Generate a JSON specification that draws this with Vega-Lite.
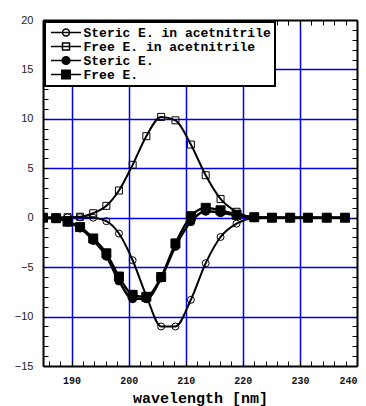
{
  "$schema": "https://vega.github.io/schema/vega-lite/v6.json",
  "width": 314,
  "height": 346,
  "autosize": "none",
  "padding": {"left": 43, "top": 20, "right": 9, "bottom": 40},
  "background": "white",
  "data": {
    "values": [
      {"s": "Steric E. in acetnitrile", "x": 185.0, "y": 0},
      {"s": "Steric E. in acetnitrile", "x": 187.3, "y": 0},
      {"s": "Steric E. in acetnitrile", "x": 189.3, "y": 0.05},
      {"s": "Steric E. in acetnitrile", "x": 191.5, "y": 0.05},
      {"s": "Steric E. in acetnitrile", "x": 193.8, "y": 0},
      {"s": "Steric E. in acetnitrile", "x": 196.1, "y": -0.35},
      {"s": "Steric E. in acetnitrile", "x": 198.3, "y": -1.6},
      {"s": "Steric E. in acetnitrile", "x": 200.7, "y": -4.3},
      {"s": "Steric E. in acetnitrile", "x": 203.1, "y": -7.9},
      {"s": "Steric E. in acetnitrile", "x": 205.7, "y": -11.0},
      {"s": "Steric E. in acetnitrile", "x": 208.2, "y": -11.0},
      {"s": "Steric E. in acetnitrile", "x": 210.9, "y": -8.3},
      {"s": "Steric E. in acetnitrile", "x": 213.5, "y": -4.6},
      {"s": "Steric E. in acetnitrile", "x": 216.1, "y": -1.95},
      {"s": "Steric E. in acetnitrile", "x": 218.9, "y": -0.6},
      {"s": "Steric E. in acetnitrile", "x": 222.0, "y": -0.05},
      {"s": "Steric E. in acetnitrile", "x": 225.1, "y": 0},
      {"s": "Steric E. in acetnitrile", "x": 228.3, "y": 0},
      {"s": "Steric E. in acetnitrile", "x": 231.4, "y": 0},
      {"s": "Steric E. in acetnitrile", "x": 234.7, "y": 0},
      {"s": "Steric E. in acetnitrile", "x": 237.9, "y": 0},
      {"s": "Free E. in acetnitrile", "x": 185.0, "y": 0},
      {"s": "Free E. in acetnitrile", "x": 187.3, "y": 0},
      {"s": "Free E. in acetnitrile", "x": 189.3, "y": 0.05},
      {"s": "Free E. in acetnitrile", "x": 191.5, "y": 0.1},
      {"s": "Free E. in acetnitrile", "x": 193.8, "y": 0.45},
      {"s": "Free E. in acetnitrile", "x": 196.1, "y": 1.2},
      {"s": "Free E. in acetnitrile", "x": 198.3, "y": 2.75},
      {"s": "Free E. in acetnitrile", "x": 200.7, "y": 5.35},
      {"s": "Free E. in acetnitrile", "x": 203.1, "y": 8.25},
      {"s": "Free E. in acetnitrile", "x": 205.7, "y": 10.2},
      {"s": "Free E. in acetnitrile", "x": 208.2, "y": 9.85},
      {"s": "Free E. in acetnitrile", "x": 210.9, "y": 7.4},
      {"s": "Free E. in acetnitrile", "x": 213.5, "y": 4.3},
      {"s": "Free E. in acetnitrile", "x": 216.1, "y": 1.9},
      {"s": "Free E. in acetnitrile", "x": 218.9, "y": 0.6},
      {"s": "Free E. in acetnitrile", "x": 222.0, "y": 0.05},
      {"s": "Free E. in acetnitrile", "x": 225.1, "y": 0},
      {"s": "Free E. in acetnitrile", "x": 228.3, "y": 0},
      {"s": "Free E. in acetnitrile", "x": 231.4, "y": 0},
      {"s": "Free E. in acetnitrile", "x": 234.7, "y": 0},
      {"s": "Free E. in acetnitrile", "x": 237.9, "y": 0},
      {"s": "Steric E.", "x": 185.0, "y": 0},
      {"s": "Steric E.", "x": 187.3, "y": -0.05},
      {"s": "Steric E.", "x": 189.3, "y": -0.45},
      {"s": "Steric E.", "x": 191.5, "y": -1.05},
      {"s": "Steric E.", "x": 193.8, "y": -2.3},
      {"s": "Steric E.", "x": 196.1, "y": -3.9},
      {"s": "Steric E.", "x": 198.3, "y": -6.4},
      {"s": "Steric E.", "x": 200.7, "y": -8.2},
      {"s": "Steric E.", "x": 203.1, "y": -8.2},
      {"s": "Steric E.", "x": 205.7, "y": -6.1},
      {"s": "Steric E.", "x": 208.2, "y": -2.9},
      {"s": "Steric E.", "x": 210.9, "y": -0.4},
      {"s": "Steric E.", "x": 213.5, "y": 0.65},
      {"s": "Steric E.", "x": 216.1, "y": 0.5},
      {"s": "Steric E.", "x": 218.9, "y": 0.25},
      {"s": "Steric E.", "x": 222.0, "y": 0},
      {"s": "Steric E.", "x": 225.1, "y": 0},
      {"s": "Steric E.", "x": 228.3, "y": 0},
      {"s": "Steric E.", "x": 231.4, "y": 0},
      {"s": "Steric E.", "x": 234.7, "y": 0},
      {"s": "Steric E.", "x": 237.9, "y": 0},
      {"s": "Free E.", "x": 185.0, "y": 0},
      {"s": "Free E.", "x": 187.3, "y": -0.05},
      {"s": "Free E.", "x": 189.3, "y": -0.4},
      {"s": "Free E.", "x": 191.5, "y": -0.95},
      {"s": "Free E.", "x": 193.8, "y": -2.1},
      {"s": "Free E.", "x": 196.1, "y": -3.6},
      {"s": "Free E.", "x": 198.3, "y": -5.95},
      {"s": "Free E.", "x": 200.7, "y": -7.8},
      {"s": "Free E.", "x": 203.1, "y": -8.0},
      {"s": "Free E.", "x": 205.7, "y": -6.0},
      {"s": "Free E.", "x": 208.2, "y": -2.6},
      {"s": "Free E.", "x": 210.9, "y": 0.15},
      {"s": "Free E.", "x": 213.5, "y": 1.0},
      {"s": "Free E.", "x": 216.1, "y": 0.75},
      {"s": "Free E.", "x": 218.9, "y": 0.3},
      {"s": "Free E.", "x": 222.0, "y": 0.05},
      {"s": "Free E.", "x": 225.1, "y": 0},
      {"s": "Free E.", "x": 228.3, "y": 0},
      {"s": "Free E.", "x": 231.4, "y": 0},
      {"s": "Free E.", "x": 234.7, "y": 0},
      {"s": "Free E.", "x": 237.9, "y": 0}
    ]
  },
  "layer": [
    {
      "mark": {"type": "line", "interpolate": "monotone", "color": "black", "clip": true},
      "encoding": {
        "x": {
          "field": "x", "type": "quantitative",
          "scale": {"domain": [185, 240], "nice": false, "zero": false},
          "axis": {
            "orient": "bottom",
            "values": [186,188,190,192,194,196,198,200,202,204,206,208,210,212,214,216,218,220,222,224,226,228,230,232,234,236,238,240],
            "labelExpr": "datum.value % 10 === 0 ? datum.label : ''",
            "labelOverlap": false,
            "grid": true,
            "gridOpacity": {"condition": {"test": "datum.value % 10 === 0 && datum.value < 240", "value": 1}, "value": 0},
            "labelFont": "Liberation Mono", "labelFontWeight": "bold", "labelFontSize": 10, "labelColor": "#111",
            "labelPadding": 14,
            "title": "wavelength [nm]",
            "titleFont": "Liberation Mono", "titleFontWeight": "bold", "titleFontSize": 15,
            "titlePadding": 5
          }
        },
        "y": {
          "field": "y", "type": "quantitative",
          "scale": {"domain": [-15, 20], "nice": false, "zero": false},
          "axis": {
            "orient": "left",
            "values": [-15,-14,-13,-12,-11,-10,-9,-8,-7,-6,-5,-4,-3,-2,-1,0,1,2,3,4,5,6,7,8,9,10,11,12,13,14,15,16,17,18,19,20],
            "labelExpr": "datum.value % 5 === 0 ? datum.label : ''",
            "labelOverlap": false,
            "grid": true,
            "gridOpacity": {"condition": {"test": "datum.value % 5 === 0 && datum.value > -15 && datum.value < 20", "value": 1}, "value": 0},
            "labelFont": "Liberation Sans", "labelFontSize": 11, "labelColor": "#222",
            "labelPadding": 15,
            "title": null
          }
        },
        "detail": {"field": "s"},
        "strokeWidth": {"condition": {"test": "indexof(datum.s, 'acetnitrile') >= 0", "value": 2}, "value": 2.4}
      }
    },
    {
      "mark": {"type": "point", "stroke": "black", "strokeWidth": 1, "opacity": 1, "clip": true},
      "encoding": {
        "x": {
          "field": "x", "type": "quantitative",
          "axis": {
            "orient": "top",
            "values": [186,188,190,192,194,196,198,200,202,204,206,208,210,212,214,216,218,220,222,224,226,228,230,232,234,236,238],
            "labels": false, "grid": false, "title": null
          }
        },
        "y": {
          "field": "y", "type": "quantitative",
          "axis": {
            "orient": "right",
            "values": [-15,-14,-13,-12,-11,-10,-9,-8,-7,-6,-5,-4,-3,-2,-1,0,1,2,3,4,5,6,7,8,9,10,11,12,13,14,15,16,17,18,19,20],
            "labels": false, "grid": false, "title": null
          }
        },
        "shape": {"condition": {"test": "indexof(datum.s, 'Free') >= 0", "value": "square"}, "value": "circle"},
        "fill": {"condition": {"test": "indexof(datum.s, 'acetnitrile') >= 0", "value": "transparent"}, "value": "black"},
        "size": {
          "condition": [
            {"test": "indexof(datum.s, 'acetnitrile') >= 0", "value": 49},
            {"test": "datum.s === 'Steric E.'", "value": 64}
          ],
          "value": 81
        }
      }
    },
    {
      "mark": {"type": "point", "strokeWidth": 1.5, "opacity": 0, "filled": false},
      "encoding": {
        "x": {"field": "x", "type": "quantitative", "axis": null},
        "y": {"field": "y", "type": "quantitative", "axis": null},
        "shape": {
          "field": "s", "type": "nominal",
          "scale": {
            "domain": ["Steric E. in acetnitrile", "Free E. in acetnitrile", "Steric E.", "Free E."],
            "range": [
              "M-4.3,0H4.3M-1,0A1,1 0 1,0 1,0A1,1 0 1,0 -1,0",
              "M-4.3,0H4.3M-1,-1H1V1H-1Z",
              "M-4.3,0H4.3M-1.1,0A1.1,1.1 0 1,0 1.1,0A1.1,1.1 0 1,0 -1.1,0",
              "M-4.3,0H4.3M-1.2,-1.2H1.2V1.2H-1.2Z"
            ]
          },
          "legend": {
            "title": null,
            "orient": "top-left",
            "offset": 2,
            "padding": 4,
            "fillColor": "white",
            "strokeColor": "black",
            "labelFont": "Liberation Mono", "labelFontWeight": "bold", "labelFontSize": 13, "labelColor": "black",
            "labelLimit": 400,
            "symbolSize": 49,
            "symbolOffset": 10.5,
            "labelOffset": 11,
            "rowPadding": -1,
            "symbolStrokeWidth": 1.5,
            "symbolOpacity": 1
          }
        },
        "fill": {
          "field": "s", "type": "nominal",
          "scale": {
            "domain": ["Steric E. in acetnitrile", "Free E. in acetnitrile", "Steric E.", "Free E."],
            "range": ["transparent", "transparent", "black", "black"]
          }
        },
        "stroke": {
          "field": "s", "type": "nominal",
          "scale": {
            "domain": ["Steric E. in acetnitrile", "Free E. in acetnitrile", "Steric E.", "Free E."],
            "range": ["black", "black", "black", "black"]
          }
        }
      }
    }
  ],
  "resolve": {"scale": {"x": "shared", "y": "shared"}, "axis": {"x": "independent", "y": "independent"}},
  "config": {
    "view": {"stroke": null},
    "legend": {"strokeWidth": 2},
    "axis": {
      "domainColor": "black", "domainWidth": 2,
      "tickColor": "black", "tickWidth": 1, "tickSize": -5,
      "gridColor": "#0000ee", "gridWidth": 1.5
    }
  }
}
